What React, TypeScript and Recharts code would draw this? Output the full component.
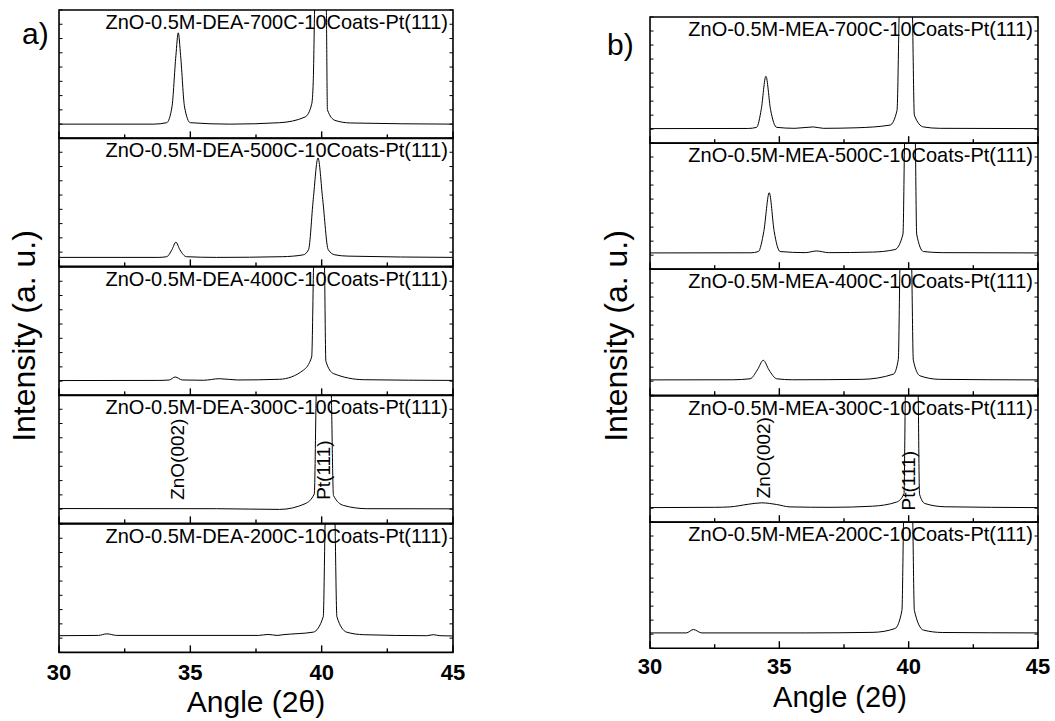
import React from 'react';
import { LineChart, Line, XAxis, YAxis, ReferenceArea, ReferenceDot } from 'recharts';

const FONT = '"Liberation Sans", Arial, Helvetica, sans-serif';

// x axis: 2-theta (deg)
const xTicks = [30, 32.5, 35, 37.5, 40, 42.5, 45];
const xMajor = [30, 35, 40, 45];
// y axis: arbitrary units per sub plot, nine minor intervals
const yTicks = [0, 10, 20, 30, 40, 50, 60, 70, 80, 90];

type Pt = [number, number];

// panel a) DEA, [angle, intensity]
const dea700: Pt[] = [
  [30, 10], [33.6, 10], [34.1, 11], [34.3, 22], [34.45, 58], [34.54, 74], [34.63, 58], [34.78, 22],
  [35.0, 11], [36.5, 10], [38.4, 11], [39.37, 15], [39.62, 24], [39.68, 40], [39.73, 90],
  [39.96, 250], [40.18, 90], [40.22, 20], [40.51, 12.6], [41.1, 10.8], [45, 10],
];
const dea500: Pt[] = [
  [30, 6.3], [33.8, 6.3], [34.1, 6.8], [34.3, 11.7], [34.45, 17], [34.6, 11.7], [34.85, 6.8],
  [36, 6.3], [38.5, 6.8], [39.3, 8.1], [39.5, 11.7], [39.68, 47], [39.86, 76], [40.04, 47],
  [40.25, 11.7], [40.5, 8.1], [41, 7.2], [45, 6.3],
];
const dea400: Pt[] = [
  [30, 10.4], [33.8, 10.5], [34.2, 10.8], [34.42, 12.9], [34.7, 10.8], [35.5, 10.6], [36.1, 11.7],
  [36.8, 10.8], [38.4, 11.3], [39.3, 17.6], [39.62, 27], [39.69, 90], [39.9, 270], [40.11, 90],
  [40.16, 24], [40.45, 15.3], [41.6, 11], [45, 10.5],
];
const dea300: Pt[] = [
  [30, 10.4], [36, 10.3], [38.4, 9.8], [39.37, 13.8], [39.72, 20.7], [39.79, 90], [40.08, 360],
  [40.37, 90], [40.45, 19.6], [40.83, 12.6], [41.72, 10.3], [45, 10.2],
];
const dea200: Pt[] = [
  [30, 11.7], [31.5, 11.9], [31.82, 13], [32.2, 11.9], [37.6, 11.9], [37.96, 12.6], [38.3, 11.9],
  [38.53, 12.4], [39.68, 14.2], [40.06, 25], [40.13, 90], [40.32, 270], [40.51, 90], [40.58, 25],
  [40.95, 14.2], [41.6, 12.4], [44, 11.7], [44.25, 12.4], [44.5, 11.7], [45, 11.5],
];

// panel b) MEA
const mea700: Pt[] = [
  [30, 10.4], [33.8, 10.5], [34.12, 11.3], [34.3, 24], [34.48, 47.7], [34.66, 24], [34.9, 11.3],
  [35.6, 10.6], [36.31, 11.6], [36.7, 10.6], [38.0, 11], [39.28, 12.9], [39.55, 23.4], [39.63, 90],
  [39.89, 300], [40.15, 90], [40.22, 20], [40.57, 11.6], [41.2, 10.6], [45, 10.4],
];
const mea500: Pt[] = [
  [30, 11.6], [33.9, 11.7], [34.19, 12.6], [34.4, 27], [34.61, 54.5], [34.8, 27], [35.03, 12.6],
  [36, 11.8], [36.44, 13], [36.9, 11.8], [38.6, 12.2], [39.47, 14], [39.78, 25], [39.84, 90],
  [40.05, 300], [40.26, 90], [40.31, 25], [40.57, 12.6], [41.3, 11.8], [45, 11.6],
];
const mea400: Pt[] = [
  [30, 10.9], [33.2, 11], [33.87, 11.7], [34.15, 18], [34.38, 24.9], [34.6, 18], [34.9, 11.7],
  [35.5, 11], [38.2, 11.3], [39.41, 15], [39.6, 25.6], [39.66, 90], [39.89, 300], [40.12, 90],
  [40.18, 25], [40.44, 13.8], [41.2, 11.3], [45, 10.9],
];
const mea300: Pt[] = [
  [30, 10.4], [32.5, 10.6], [33.09, 10.9], [33.8, 12.8], [34.32, 13.8], [34.9, 12.6], [35.41, 10.9],
  [37, 10.6], [38.6, 11.4], [39.54, 14.4], [39.82, 20.4], [39.87, 90], [40.12, 330], [40.37, 90],
  [40.42, 20], [40.63, 13.3], [41.4, 11], [45, 10.4],
];
const mea200: Pt[] = [
  [30, 10.9], [31.4, 10.9], [31.68, 13.3], [32.0, 10.9], [36, 10.9], [38.62, 11.3], [39.47, 14],
  [39.74, 27], [39.8, 90], [39.98, 300], [40.16, 90], [40.22, 27], [40.57, 12.9], [41.3, 11.2],
  [45, 10.9],
];

const deaSeries = [dea700, dea500, dea400, dea300, dea200];
const meaSeries = [mea700, mea500, mea400, mea300, mea200];
const temps = ['700C', '500C', '400C', '300C', '200C'];

// peak markers in the 300C sub plot: [angle, intensity at text start]
const deaNotes: { text: string; at: Pt }[] = [
  { text: 'ZnO(002)', at: [34.5, 16.5] },
  { text: 'Pt(111)', at: [40.05, 16.5] },
];
const meaNotes: { text: string; at: Pt }[] = [
  { text: 'ZnO(002)', at: [34.37, 17] },
  { text: 'Pt(111)', at: [39.97, 8.4] },
];

const toRows = (pts: Pt[]) => pts.map(([x, y]) => ({ x, y }));

function XTick(props: any) {
  const { x, y, payload, showLabel, labelGap } = props;
  const major = xMajor.includes(payload.value);
  return (
    <g>
      <line x1={x} x2={x} y1={y} y2={y - (major ? 7 : 4)} stroke="#000" strokeWidth={1.4} />
      {showLabel && major && (
        <text x={x} y={y + labelGap} textAnchor="middle" fontSize={22} fontWeight="bold" fontFamily={FONT} fill="#000">
          {payload.value}
        </text>
      )}
    </g>
  );
}

function YTick(props: any) {
  const { x, y, plotWidth } = props;
  return (
    <g>
      <line x1={x} x2={x + 3.5} y1={y} y2={y} stroke="#000" strokeWidth={1} />
      <line x1={x + plotWidth} x2={x + plotWidth - 3.5} y1={y} y2={y} stroke="#000" strokeWidth={1} />
    </g>
  );
}

function RotText(props: any) {
  const { viewBox, text } = props;
  const cx = viewBox.x + (viewBox.width || 0) / 2;
  const cy = viewBox.y + (viewBox.height || 0) / 2;
  const bx = cx + 7;
  return (
    <text x={bx} y={cy} transform={`rotate(-90 ${bx} ${cy})`} fontSize={19} fontFamily={FONT} fill="#000">
      {text}
    </text>
  );
}

function Subplot({ pts, title, left, top, width, height, bottom, notes, labelGap }: any) {
  const MX = 20;
  const MY = 10;
  const extra = bottom ? 40 : 0;
  // axes get 1px of room (a zero-size axis is not drawn), margins take it back
  return (
    <div style={{ position: 'absolute', left: left - MX, top: top - MY }}>
      <LineChart
        width={width + 2 * MX}
        height={height + 2 * MY + extra}
        data={toRows(pts)}
        margin={{ top: MY, right: MX, bottom: MY + extra - 1, left: MX - 1 }}
      >
        <XAxis
          dataKey="x"
          type="number"
          domain={[30, 45]}
          ticks={xTicks}
          interval={0}
          allowDataOverflow
          height={1}
          axisLine={false}
          tickLine={false}
          tickSize={0}
          tickMargin={0}
          tick={<XTick showLabel={bottom} labelGap={labelGap} />}
        />
        <YAxis
          type="number"
          domain={[0, 90]}
          ticks={yTicks}
          interval={0}
          allowDataOverflow
          width={1}
          axisLine={false}
          tickLine={false}
          tickSize={0}
          tickMargin={0}
          tick={<YTick plotWidth={width} />}
        />
        <ReferenceArea
          x1={30}
          x2={45}
          y1={0}
          y2={90}
          fill="none"
          fillOpacity={0}
          stroke="#000"
          strokeWidth={1.6}
          label={{ value: title, position: 'insideTopRight', offset: 5, fontSize: 20, fill: '#000', fontFamily: FONT }}
        />
        <Line
          dataKey="y"
          type="monotone"
          stroke="#000"
          strokeWidth={1}
          dot={false}
          activeDot={false}
          isAnimationActive={false}
        />
        {(notes || []).map((n: any) => (
          <ReferenceDot
            key={n.text}
            x={n.at[0]}
            y={n.at[1]}
            r={0}
            fill="none"
            stroke="none"
            label={<RotText text={n.text} />}
          />
        ))}
      </LineChart>
    </div>
  );
}

function Panel({ series, chem, left, top, width, subH, notes, labelGap }: any) {
  return (
    <>
      {series.map((pts: Pt[], i: number) => (
        <Subplot
          key={i}
          pts={pts}
          title={`ZnO-0.5M-${chem}-${temps[i]}-10Coats-Pt(111)`}
          left={left}
          top={top + i * subH}
          width={width}
          height={subH}
          bottom={i === series.length - 1}
          notes={i === 3 ? notes : undefined}
          labelGap={labelGap}
        />
      ))}
    </>
  );
}

export default function App() {
  return (
    <div
      style={{
        position: 'absolute',
        left: 0,
        top: 0,
        width: 1055,
        height: 721,
        background: '#fff',
        overflow: 'hidden',
        fontFamily: FONT,
      }}
    >
      <Panel series={deaSeries} chem="DEA" left={59} top={10} width={394} subH={128.4} notes={deaNotes} labelGap={28} />
      <Panel series={meaSeries} chem="MEA" left={650} top={17} width={388} subH={126.2} notes={meaNotes} labelGap={26} />

      <svg width={1055} height={721} style={{ position: 'absolute', left: 0, top: 0, pointerEvents: 'none' }}>
        <g fontFamily={FONT} fill="#000">
          <text x={22} y={44} fontSize={30}>a)</text>
          <text x={607} y={55} fontSize={30}>b)</text>
          <text x={35} y={336} fontSize={32} textAnchor="middle" transform="rotate(-90 35 336)">
            Intensity (a. u.)
          </text>
          <text x={627} y={336} fontSize={32} textAnchor="middle" transform="rotate(-90 627 336)">
            Intensity (a. u.)
          </text>
          <text x={256} y={712} fontSize={30} textAnchor="middle">Angle (2θ)</text>
          <text x={840} y={707} fontSize={29} textAnchor="middle">Angle (2θ)</text>
        </g>
      </svg>
    </div>
  );
}
